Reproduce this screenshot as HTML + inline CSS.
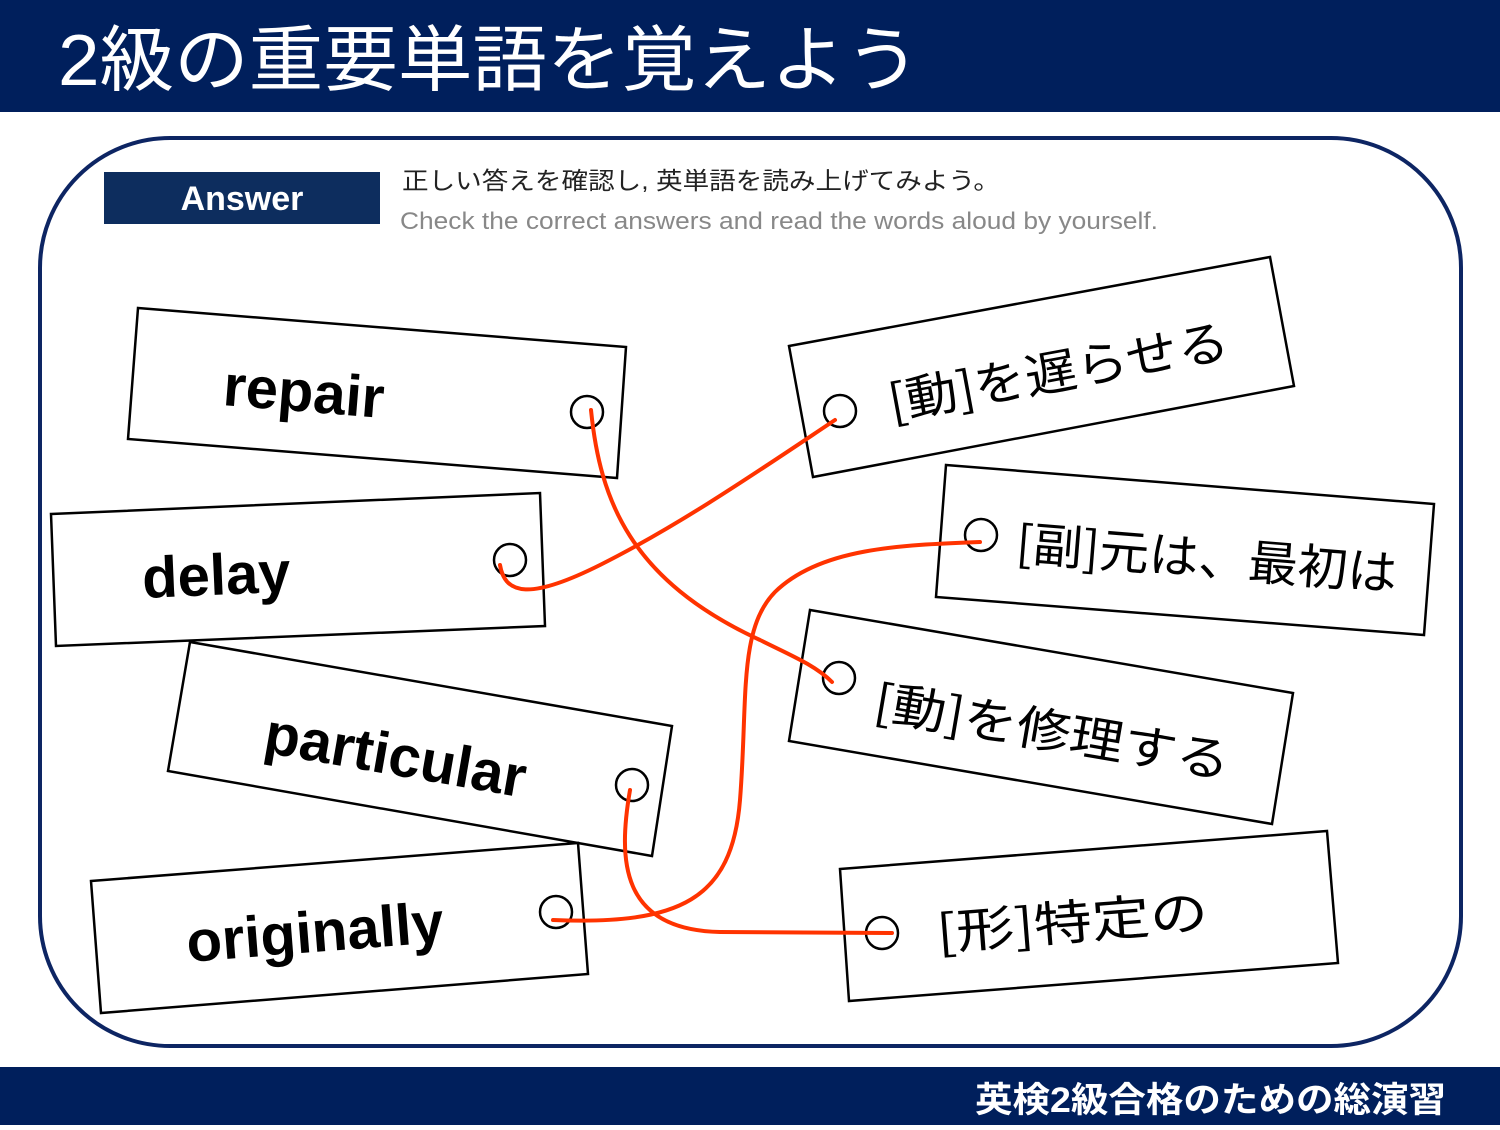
<!DOCTYPE html>
<html><head><meta charset="utf-8"><style>
html,body{margin:0;padding:0;background:#fff;}
body{width:1500px;height:1125px;overflow:hidden;position:relative;}
</style></head><body>
<svg width="1500" height="1125" viewBox="0 0 1500 1125" xmlns="http://www.w3.org/2000/svg">
<rect x="0" y="0" width="1500" height="112" fill="#001f5c"/>
<text x="58" y="85" textLength="862" lengthAdjust="spacingAndGlyphs" font-family="'Liberation Sans','Noto Sans CJK JP',sans-serif" font-size="72" fill="#fff">2級の重要単語を覚えよう</text>
<rect x="0" y="1067" width="1500" height="58" fill="#001f5c"/>
<text x="975" y="1112" textLength="471" lengthAdjust="spacingAndGlyphs" font-family="'Liberation Sans','Noto Sans CJK JP',sans-serif" font-weight="bold" font-size="35" fill="#fff">英検2級合格のための総演習</text>
<rect x="40" y="138" width="1421" height="908" rx="130" ry="130" fill="none" stroke="#0d2563" stroke-width="4"/>
<rect x="104" y="172" width="276" height="52" fill="#0d2d5e"/>
<text x="242" y="210" text-anchor="middle" font-family="'Liberation Sans',sans-serif" font-weight="bold" font-size="34" fill="#fff">Answer</text>
<text x="402" y="189" textLength="598" lengthAdjust="spacingAndGlyphs" font-family="'Liberation Sans','Noto Sans CJK JP',sans-serif" font-size="24" fill="#222">正しい答えを確認し, 英単語を読み上げてみよう。</text>
<text x="400" y="229" textLength="758" lengthAdjust="spacingAndGlyphs" font-family="'Liberation Sans','Noto Sans CJK JP',sans-serif" font-size="24" fill="#888">Check the correct answers and read the words aloud by yourself.</text>
<g fill="#fff" stroke="#000" stroke-width="2.5">
<polygon points="138,308 626,347 617,478 128,439"/>
<polygon points="51,514 540,493 545,626 56,646"/>
<polygon points="190,642 672,726 652,856 168,771"/>
<polygon points="91,881 578,843 588,974 101,1013"/>
<polygon points="789,346 1270,257 1294,386 813,477"/>
<polygon points="946,465 1434,504 1424,635 936,597"/>
<polygon points="810,610 1293,693 1272,824 789,741"/>
<polygon points="840,869 1327,831 1338,963 849,1001"/>
</g>
<g font-family="'Liberation Sans',sans-serif" font-weight="bold" font-size="58" fill="#000">
<text transform="translate(222,405) rotate(4.6)">repair</text>
<text transform="translate(143,598) rotate(-2.5)">delay</text>
<text transform="translate(262,752) rotate(9.9)">particular</text>
<text transform="translate(188,962) rotate(-4.5)">originally</text>
</g>
<g font-family="'Noto Sans CJK JP',sans-serif" font-size="48" fill="#000">
<text transform="translate(892,420) rotate(-10.5)" textLength="345" lengthAdjust="spacingAndGlyphs">[動]を遅らせる</text>
<text transform="translate(1015,560) rotate(4.6)" textLength="382" lengthAdjust="spacingAndGlyphs">[副]元は、最初は</text>
<text transform="translate(872,718) rotate(9.7)" textLength="360" lengthAdjust="spacingAndGlyphs">[動]を修理する</text>
<text transform="translate(938,950) rotate(-4.5)" textLength="272" lengthAdjust="spacingAndGlyphs">[形]特定の</text>
</g>
<g fill="none" stroke="#000" stroke-width="2.5">
<circle cx="587" cy="412" r="16"/><circle cx="510" cy="560" r="16"/>
<circle cx="632" cy="785" r="16"/><circle cx="556" cy="912" r="16"/>
<circle cx="840" cy="411" r="16"/><circle cx="981" cy="535" r="16"/>
<circle cx="839" cy="678" r="16"/><circle cx="882" cy="933" r="16"/>
</g>
<g fill="none" stroke="#ff3300" stroke-width="4" stroke-linecap="round">
<path d="M591,410 C600,500 630,580 760,640 C790,655 815,665 832,682"/>
<path d="M500,565 C505,595 530,600 600,565 C680,525 760,470 835,420"/>
<path d="M630,790 C618,860 620,930 720,932 L892,933"/>
<path d="M553,920 C680,925 732,900 740,800 C748,700 738,630 775,592 C820,548 900,545 980,542"/>
</g>
</svg>
</body></html>
